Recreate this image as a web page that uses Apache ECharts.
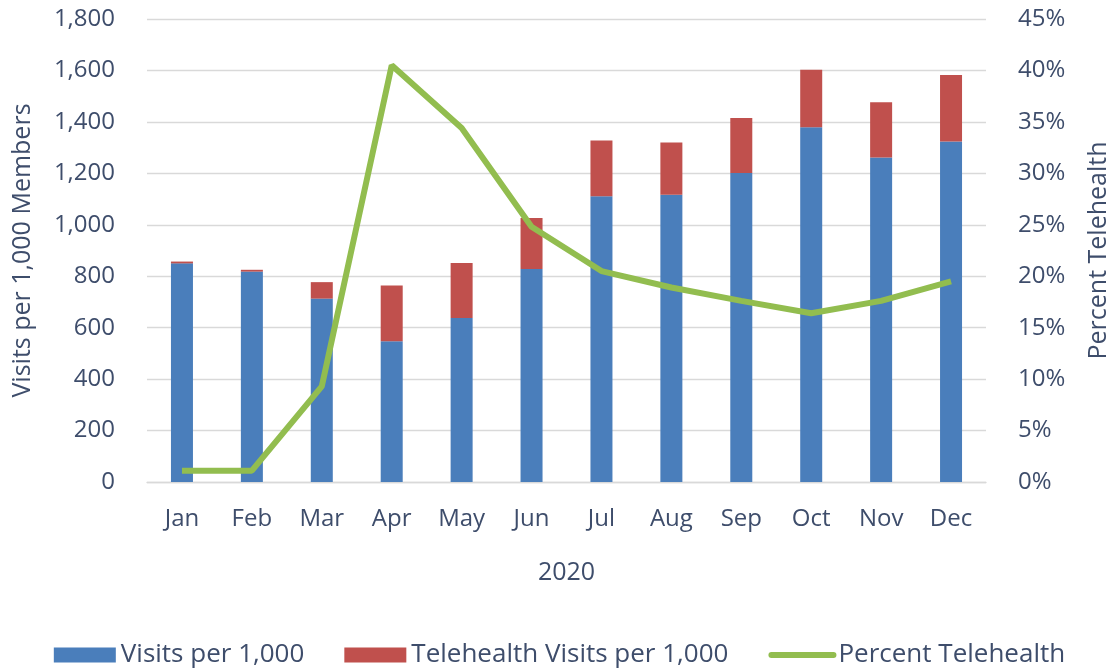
<!DOCTYPE html>
<html>
<head>
<meta charset="utf-8">
<script src="https://cdn.jsdelivr.net/npm/echarts@6/dist/echarts.min.js"></script>
<style>html,body{margin:0;padding:0;background:#fff}#chart{width:1119px;height:670px}</style>
</head>
<body>
<div id="chart"></div>
<script>
const months = ['Jan','Feb','Mar','Apr','May','Jun','Jul','Aug','Sep','Oct','Nov','Dec'];
const visitsPer1000 = [850, 818, 713, 547, 638, 828, 1111, 1117, 1201, 1379, 1262, 1324];
const telehealthPer1000 = [7, 7, 64, 217, 213, 198, 217, 203, 214, 224, 214, 258];
const percentTelehealth = [1.1, 1.1, 9.3, 40.5, 34.4, 24.8, 20.5, 18.9, 17.6, 16.4, 17.6, 19.5];
const leftTicks = {min: 0, max: 1800, interval: 200};
const rightTicks = {min: 0, max: 45, interval: 5};

const textColor = '#3e4d6b';
const font = 'Open Sans';
const chart = echarts.init(document.getElementById('chart'));
chart.setOption({
  animation: false,
  textStyle: {fontFamily: font, color: textColor},
  grid: {left: 147, right: 126, top: 19, bottom: 188},
  legend: {
    bottom: -3, left: 'center',
    itemWidth: 62, itemHeight: 15, itemGap: 40,
    textStyle: {fontSize: 26, color: textColor, fontFamily: font},
    data: [
      {name: 'Visits per 1,000', icon: 'rect'},
      {name: 'Telehealth Visits per 1,000', icon: 'rect'},
      {name: 'Percent Telehealth', lineStyle: {width: 6, cap: 'round'},
       itemStyle: {opacity: 0}}
    ]
  },
  xAxis: {
    type: 'category', data: months,
    name: '2020', nameLocation: 'middle', nameGap: 78,
    nameTextStyle: {fontSize: 25, color: textColor},
    axisLine: {show: true, lineStyle: {color: '#d9d9d9', width: 1.3}},
    axisTick: {show: false},
    axisLabel: {fontSize: 24, color: textColor, margin: 25}
  },
  yAxis: [{
    type: 'value', min: leftTicks.min, max: leftTicks.max, interval: leftTicks.interval,
    name: 'Visits per 1,000 Members', nameLocation: 'middle', nameGap: 112,
    nameTextStyle: {fontSize: 25, color: textColor},
    axisLine: {show: false}, axisTick: {show: false},
    axisLabel: {fontSize: 24, color: textColor, margin: 32,
      formatter: v => v.toLocaleString('en-US')},
    splitLine: {lineStyle: {color: '#d9d9d9', width: 1.3}}
  }, {
    type: 'value', min: rightTicks.min, max: rightTicks.max, interval: rightTicks.interval,
    name: 'Percent Telehealth', nameLocation: 'middle', nameGap: 100,
    nameRotate: 90,
    nameTextStyle: {fontSize: 25, color: textColor},
    axisLine: {show: false}, axisTick: {show: false},
    axisLabel: {fontSize: 24, color: textColor, margin: 32, formatter: '{value}%'},
    splitLine: {show: false}
  }],
  series: [{
    name: 'Visits per 1,000', type: 'bar', stack: 'v', barWidth: 22,
    itemStyle: {color: '#4a7ebb'}, data: visitsPer1000
  }, {
    name: 'Telehealth Visits per 1,000', type: 'bar', stack: 'v', barWidth: 22,
    itemStyle: {color: '#c0504d'}, data: telehealthPer1000
  }, {
    name: 'Percent Telehealth', type: 'line', yAxisIndex: 1,
    symbol: 'none', lineStyle: {color: '#92bd4f', width: 6},
    itemStyle: {color: '#92bd4f'}, data: percentTelehealth
  }]
});
</script>
</body>
</html>
